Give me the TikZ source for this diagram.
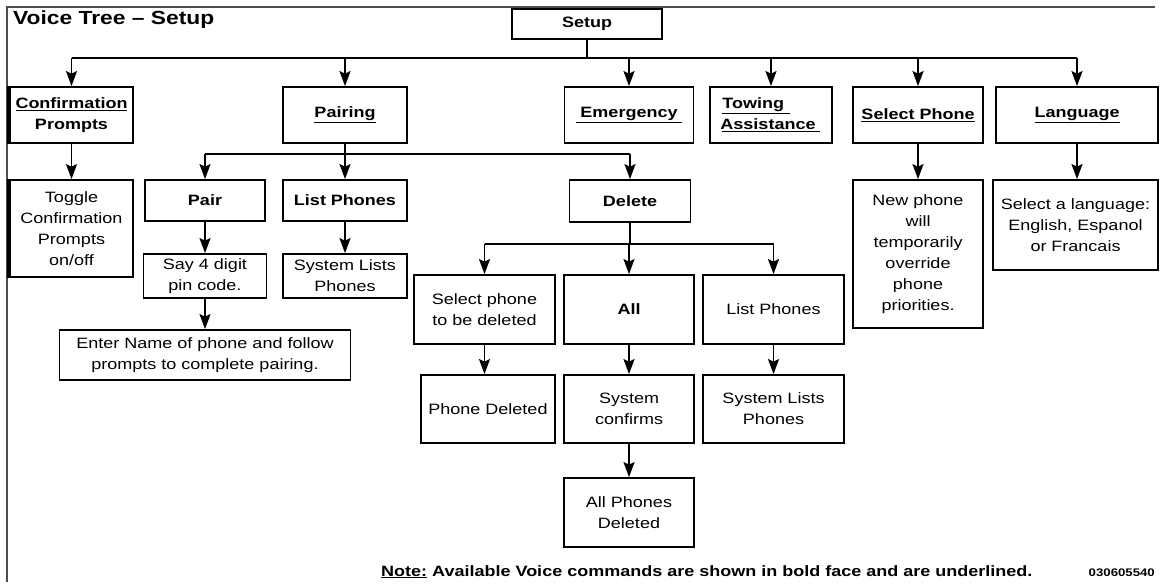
\documentclass[tikz,border=0pt]{standalone}
\usepackage{fontspec}
\setmainfont{Liberation Sans}[FakeStretch=1.2]
\usetikzlibrary{positioning, arrows.meta, calc}

\begin{document}
\begin{tikzpicture}[x=1pt, y=-1pt,
    plainbox/.style={draw, line width=1.8pt, inner sep=1pt, align=center,
      font=\fontsize{15}{21}\selectfont},
    cmdbox/.style={plainbox, font=\fontsize{15}{21}\selectfont\bfseries},
    flow/.style={line width=1.6pt, -{Stealth[length=15pt, width=11pt, inset=2.5pt]}},
    busline/.style={line width=1.4pt}]
    \useasboundingbox (0,0) rectangle (1161,586);
    %--- FRAME & TITLE ---
    \draw[gray!60!black, line width=1.2pt] (1155,7) -- (7,7) -- (7,582);
    \node[anchor=west, inner sep=0pt, font=\fontsize{19}{22}\selectfont\bfseries] (title) at (13,20) {Voice Tree -- Setup};
    %--- SETUP ---
    \node[cmdbox, minimum width=150, minimum height=30] (setup) at (587,24) {Setup};
    \node[cmdbox, minimum width=123, minimum height=56] (conf) at (71.5,115) {\underline{Confirmation}\\Prompts};
    \node[cmdbox, minimum width=124, minimum height=56] (pairing) at (345,115) {\underline{Pairing}};
    \node[cmdbox, minimum width=129, minimum height=56] (emerg) at (629,115) {\underline{\kern4pt Emergency\kern4pt}};
    \node[cmdbox, minimum width=122, minimum height=56, align=left] (towing) at (771,115) {\underline{Towing\kern6pt}\\\underline{\kern-2pt Assistance\kern4pt}};
    \node[cmdbox, minimum width=130, minimum height=56] (selph) at (918,115) {\underline{Select Phone}};
    \node[cmdbox, minimum width=162, minimum height=56] (lang) at (1077,115) {\underline{Language}};
    \draw[busline] (setup.south) -- ++(0,18) coordinate (sbus);
    \draw[busline] (conf.north |- sbus) -- (lang.north |- sbus);
    \foreach \n in {conf, pairing, emerg, towing, selph, lang}
      \draw[flow] (\n.north |- sbus) -- (\n.north);
    %--- CONFIRMATION PROMPTS ---
    \node[plainbox, minimum width=123, minimum height=97] (toggle) at (71.5,228.5) {Toggle\\Confirmation\\Prompts\\on/off};
    \draw[flow] (conf.south) -- (toggle.north);
    \draw[line width=4pt] (conf.north west) -- (conf.south west);
    \draw[line width=4pt] (toggle.north west) -- (toggle.south west);
    %--- PAIRING ---
    \node[cmdbox, minimum width=120, minimum height=41] (pair) at (205,200.5) {Pair};
    \node[cmdbox, minimum width=124, minimum height=41] (listph) at (345,200.5) {List Phones};
    \node[cmdbox, minimum width=121, minimum height=42] (delete) at (630,201) {Delete};
    \draw[busline] (pairing.south) -- ++(0,10) coordinate (pbus);
    \draw[busline] (pair.north |- pbus) -- (delete.north |- pbus);
    \foreach \n in {pair, listph, delete}
      \draw[flow] (\n.north |- pbus) -- (\n.north);
    \node[plainbox, minimum width=123, minimum height=44] (saypin) at (205,276) {Say 4 digit\\pin code.};
    \node[plainbox, minimum width=124, minimum height=44] (syslist) at (345,276) {System Lists\\Phones};
    \node[plainbox, minimum width=291, minimum height=50] (entername) at (205,355) {Enter Name of phone and follow\\prompts to complete pairing.};
    \draw[flow] (pair.south) -- (saypin.north);
    \draw[flow] (listph.south) -- (syslist.north);
    \draw[flow] (saypin.south) -- (entername.north);
    %--- DELETE ---
    \node[plainbox, minimum width=141, minimum height=69] (selphdel) at (484.5,309.5) {Select phone\\to be deleted};
    \node[cmdbox, minimum width=130, minimum height=69] (all) at (629,309.5) {All};
    \node[plainbox, minimum width=141, minimum height=69] (dellist) at (773.5,309.5) {List Phones};
    \draw[busline] (delete.south) -- ++(0,21) coordinate (dbus);
    \draw[busline] (selphdel.north |- dbus) -- (dellist.north |- dbus);
    \foreach \n in {selphdel, all, dellist}
      \draw[flow] (\n.north |- dbus) -- (\n.north);
    \node[plainbox, minimum width=134, minimum height=68] (phdel) at (488,409) {Phone Deleted};
    \node[plainbox, minimum width=130, minimum height=68] (sysconf) at (629,409) {System\\confirms};
    \node[plainbox, minimum width=141, minimum height=68] (syslist2) at (773.5,409) {System Lists\\Phones};
    \node[plainbox, minimum width=130, minimum height=69] (allphdel) at (629,512.5) {All Phones\\Deleted};
    \draw[flow] (selphdel.south) -- (selphdel.south |- phdel.north);
    \draw[flow] (all.south) -- (sysconf.north);
    \draw[flow] (dellist.south) -- (syslist2.north);
    \draw[flow] (sysconf.south) -- (allphdel.north);
    %--- SELECT PHONE / LANGUAGE ---
    \node[plainbox, minimum width=130, minimum height=148] (newph) at (918,254) {New phone\\will\\temporarily\\override\\phone\\priorities.};
    \node[plainbox, minimum width=165, minimum height=90] (sellang) at (1075.5,225) {Select a language:\\English, Espanol\\or Francais};
    \draw[flow] (selph.south) -- (newph.north);
    \draw[flow] (lang.south) -- (lang.south |- sellang.north);
    %--- NOTE ---
    \node[anchor=base west, inner sep=0pt, font=\fontsize{15}{18}\selectfont\bfseries] (note) at (381,576) {\underline{Note:} Available Voice commands are shown in bold face and are underlined.};
    \node[anchor=base east, inner sep=0pt, font=\fontsize{11}{13}\selectfont\bfseries] (figno) at (1155,576) {030605540};
\end{tikzpicture}
\end{document}
